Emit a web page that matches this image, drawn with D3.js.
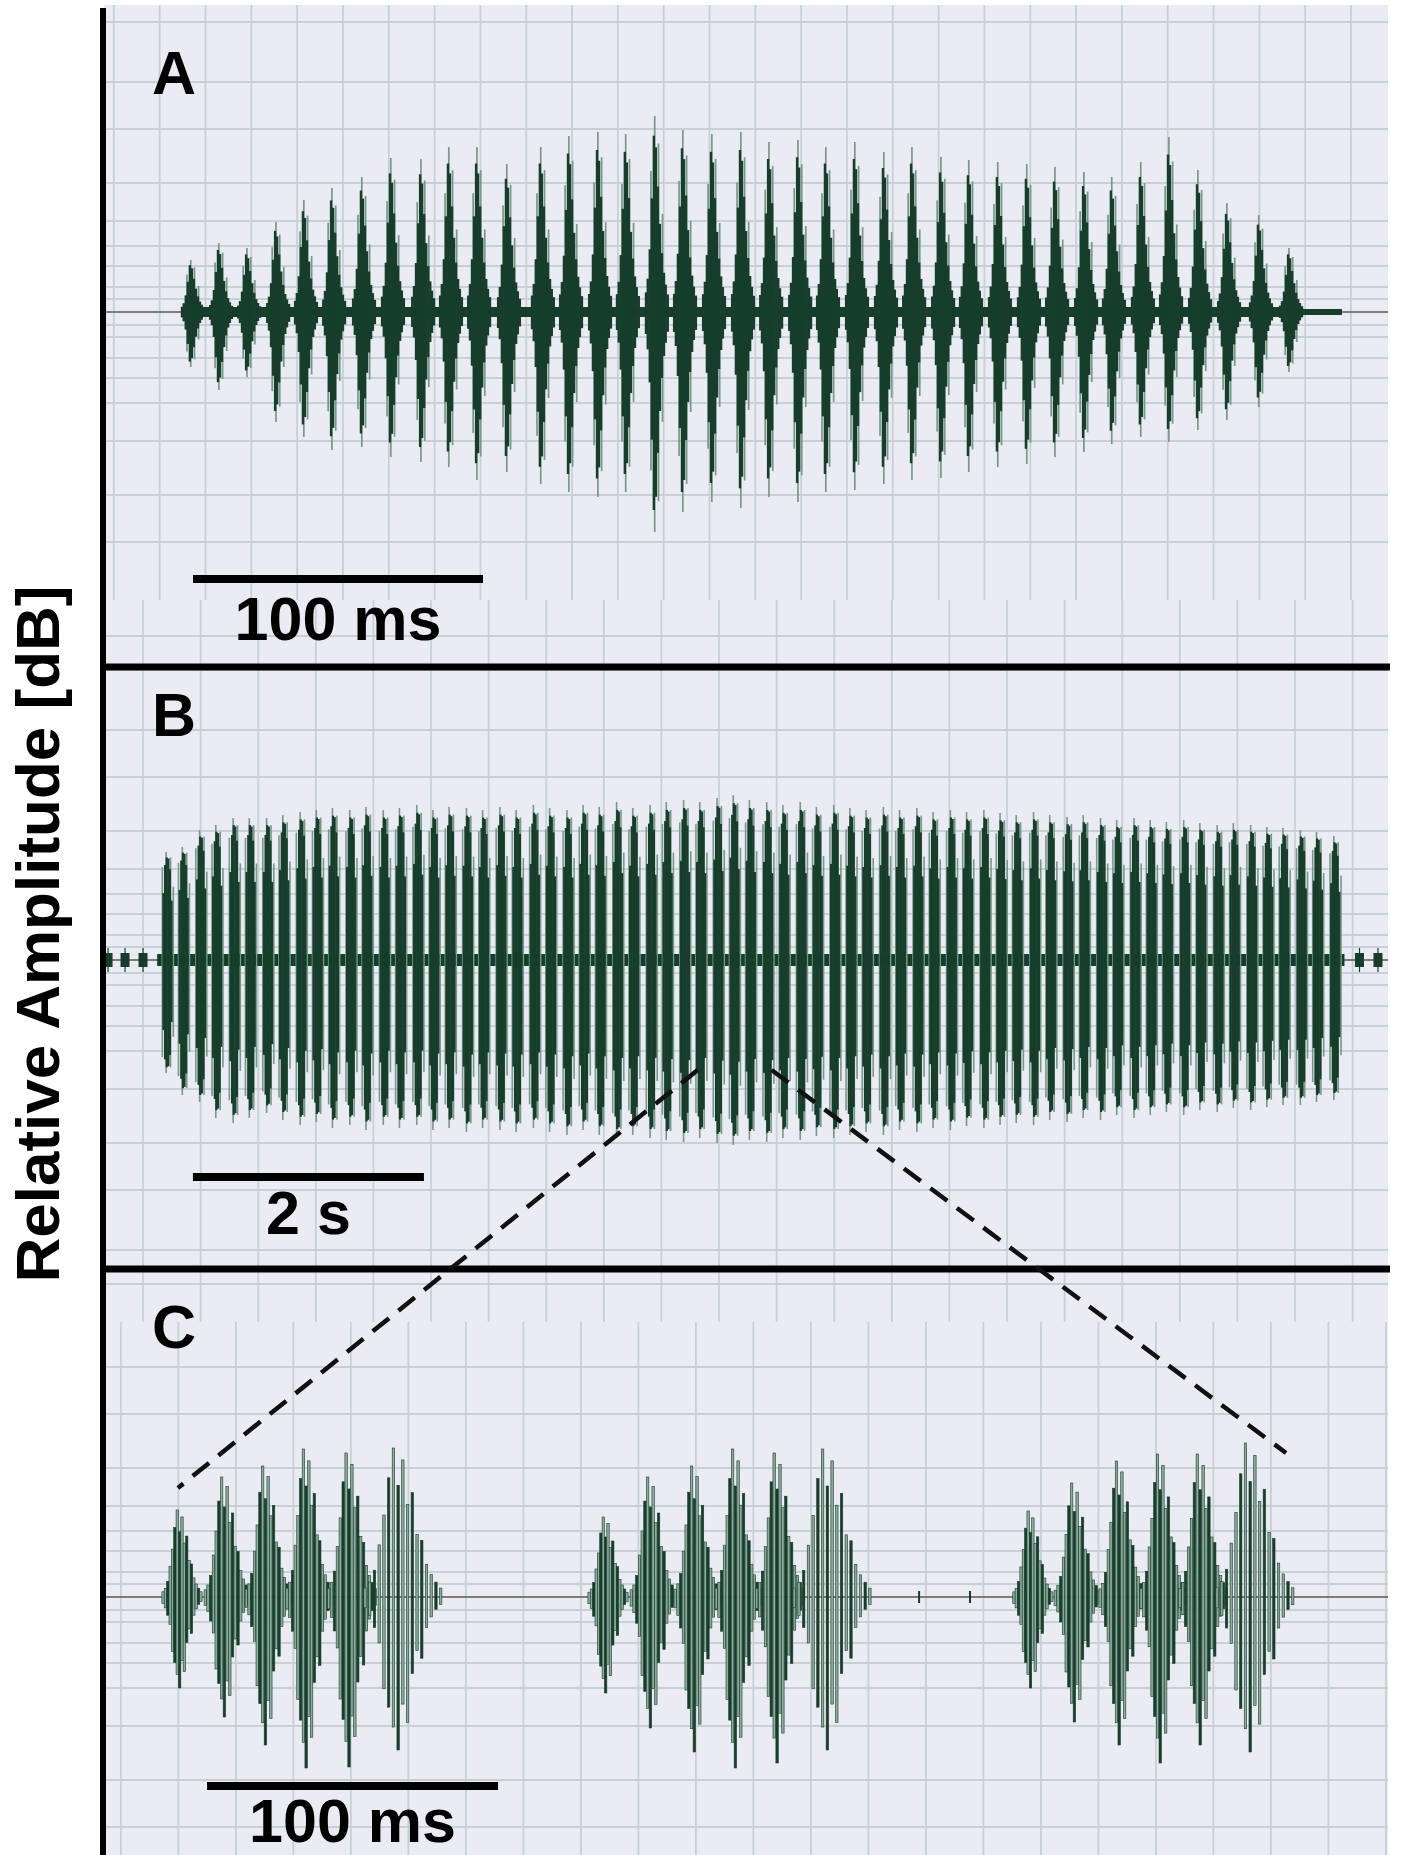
<!DOCTYPE html>
<html>
<head>
<meta charset="utf-8">
<script src="https://cdn.jsdelivr.net/npm/d3@7"></script>
<style>
  body { margin: 0; background: #fff; }
  svg { display: block; font-family: "Liberation Sans", Arial, sans-serif; font-weight: bold; }
</style>
</head>
<body>
<div id="chart"></div>
<script>
// ---- data (amplitude in arbitrary units, full scale grid = 290) ----
const gridLevels = [13, 25, 46, 66, 91, 129, 183, 230, 290, 324];

// Panel A: one call, pulse times in ms
const pulseTimesA = [30.3, 40.0, 49.7, 59.7, 69.3, 79.0, 89.3, 99.3, 109.7, 119.3, 129.0, 139.3, 151.0, 160.7,
  170.7, 180.3, 190.3, 200.0, 210.0, 220.0, 229.7, 239.7, 249.3, 259.3, 269.3, 279.0, 289.0, 298.6, 308.6,
  318.6, 328.3, 338.3, 347.9, 357.9, 367.6, 377.6, 387.6, 398.6, 409.0];
const pulseUpA = [52, 69, 64, 90, 112, 124, 135, 154, 153, 165, 165, 148, 165, 176, 180, 178, 196, 182, 178, 180,
  170, 172, 165, 170, 160, 165, 155, 152, 150, 148, 145, 140, 135, 150, 175, 142, 109, 97, 64];
const pulseDownA = [55, 78, 65, 110, 125, 138, 135, 145, 150, 155, 168, 160, 172, 180, 185, 180, 220, 200, 190, 196,
  185, 190, 180, 178, 172, 168, 166, 160, 155, 152, 145, 140, 132, 125, 130, 118, 108, 95, 60];
const extentA = [26.6, 413.0];
const tailA = [413.0, 426.9];

// Panel B: long call, pulse times in s
const pulseTimesB = [0.55, 0.69, 0.84, 0.98, 1.13, 1.27, 1.42, 1.56, 1.71, 1.85, 1.99, 2.14, 2.28, 2.43, 2.57,
  2.72, 2.86, 3.00, 3.15, 3.29, 3.44, 3.58, 3.73, 3.87, 4.02, 4.16, 4.30, 4.45, 4.59, 4.74, 4.88, 5.03, 5.17,
  5.32, 5.46, 5.60, 5.75, 5.89, 6.04, 6.18, 6.33, 6.47, 6.61, 6.76, 6.90, 7.05, 7.19, 7.34, 7.48, 7.63, 7.77,
  7.91, 8.06, 8.20, 8.35, 8.49, 8.64, 8.78, 8.93, 9.07, 9.21, 9.36, 9.50, 9.65, 9.79, 9.94, 10.08, 10.22,
  10.37, 10.51, 10.66];
const pulseUpB = [108, 113, 130, 135, 142, 142, 142, 145, 148, 150, 152, 150, 153, 150, 152, 155, 150, 153, 152,
  150, 153, 150, 155, 152, 150, 155, 153, 158, 152, 155, 158, 160, 158, 162, 165, 160, 158, 155, 158, 153, 155,
  152, 150, 153, 150, 152, 148, 150, 148, 150, 147, 145, 148, 145, 143, 145, 142, 140, 142, 140, 138, 140, 137,
  135, 137, 135, 133, 132, 130, 128, 124];
const pulseDownB = [113, 135, 142, 158, 163, 158, 153, 160, 165, 162, 168, 165, 170, 165, 168, 165, 170, 168, 172,
  168, 170, 172, 168, 172, 175, 170, 175, 178, 175, 178, 180, 182, 178, 183, 185, 180, 182, 178, 180, 176, 178,
  175, 172, 175, 170, 172, 168, 170, 166, 168, 165, 163, 165, 160, 162, 158, 160, 155, 158, 155, 152, 155, 150,
  152, 148, 150, 147, 145, 145, 142, 140];
const extentB = [0.46, 10.74];
const preNoiseB = [0.035, 0.182, 0.338, 10.87, 11.03];

// Panel C: three syllables of six pulses, times in ms
const pulseTimesC = [26.8, 42.3, 56.4, 70.4, 85.2, 102.7, 173.2, 188.7, 203.8, 217.9, 232.3, 250.2,
  319.2, 334.4, 349.8, 363.9, 377.7, 395.5];
const pulseUpC = [87, 120, 131, 148, 144, 149, 80, 120, 131, 148, 144, 148, 86, 114, 136, 143, 143, 154];
const pulseDownC = [91, 120, 148, 171, 170, 153, 96, 131, 155, 171, 166, 153, 91, 125, 148, 166, 148, 155];
const halfWidthC = [6.5, 7.5, 7.5, 7.5, 8, 13, 6.5, 7.5, 7.5, 7.5, 8, 13, 6.5, 7.5, 7.5, 7.5, 8, 13];
const blipsC = [280.1, 297.6];

// pulse shapes (offset from pulse centre, relative height)
const shapeA = {
  darkOff: [-3.4, -2.8, -2.1, -1.4, -0.7, 0, 0.7, 1.4, 2.1, 2.8, 3.4, 4.1],
  dark: [0.1, 0.17, 0.32, 0.58, 0.9, 0.84, 0.64, 0.45, 0.3, 0.2, 0.14, 0.09],
  lightOff: [-1.7, -0.4, 0.9, 2.3],
  light: [0.72, 1.0, 0.86, 0.5]
};
const shapeB = {
  darkOff: [-0.035, -0.021, -0.007, 0.007, 0.021, 0.035],
  dark: [0.62, 0.88, 0.95, 0.94, 0.84, 0.55],
  lightOff: [-0.045, -0.012, 0.026, 0.05],
  light: [0.86, 1.0, 0.95, 0.68]
};
const shapeC = {
  u: [-1, -0.875, -0.75, -0.625, -0.5, -0.375, -0.25, -0.125, 0, 0.125, 0.25, 0.375, 0.5, 0.625, 0.75, 0.875, 1],
  up: [0.06, 0.1, 0.18, 0.35, 0.55, 0.8, 1.0, 0.75, 0.92, 0.62, 0.7, 0.42, 0.38, 0.22, 0.15, 0.1, 0.06],
  down: [0.07, 0.12, 0.2, 0.3, 0.6, 0.72, 0.85, 1.0, 0.7, 0.82, 0.5, 0.35, 0.4, 0.2, 0.13, 0.08, 0.05],
  dark: [0, 0, 1, 0, 0, 1, 0, 1, 0, 0, 1, 0, 1, 0, 0, 1, 0]
};

// zoom link: from panel B (s, amp) to panel C (ms, amp)
const zoomLinks = [
  { from: [5.14, -110], to: [25.4, 109] },
  { from: [5.78, -110], to: [406.2, 144] }
];
const scaleBars = [
  { panel: "A", start: 30.7, len: 100, label: "100 ms" },
  { panel: "B", start: 0.77, len: 2, label: "2 s" },
  { panel: "C", start: 35.4, len: 100, label: "100 ms" }
];

// ---- layout ----
const W = 1403, H = 1855;
const plotL = 104, plotR = 1388, plotT = 5;
const col = {
  bg: "#ebebf4", grid: "#c7d1d4", dark: "#163e2b", light: "#769a89",
  lightC: "#8ca99b", zero: "#5e5555"
};

const svg = d3.select("#chart").append("svg")
  .attr("width", W).attr("height", H);

svg.append("rect")
  .attr("x", plotL).attr("y", plotT)
  .attr("width", plotR - plotL).attr("height", H - plotT)
  .attr("fill", col.bg);

// scales
const xA = d3.scaleLinear().domain([0, 100]).range([plotL, plotL + 290]);
const xB = d3.scaleLinear().domain([0, 2]).range([plotL, plotL + 231]);
const xC = d3.scaleLinear().domain([0, 100]).range([plotL, plotL + 291]);
const amp = c => d3.scaleLinear().domain([-290, 290]).range([c + 290, c - 290]);
const yA = amp(312), yB = amp(960), yC = amp(1597);

// grid
function drawGrid(x, y, start, step, y0, y1) {
  const g = svg.append("g");
  const d0 = x.invert(plotL), d1 = x.invert(plotR);
  const ticks = d3.range(start, d1, step).filter(t => t >= d0);
  g.selectAll(".v").data(ticks).enter().append("line")
    .attr("x1", d => x(d)).attr("x2", d => x(d))
    .attr("y1", y0).attr("y2", y1)
    .attr("stroke", col.grid).attr("stroke-width", 1.8);
  const levels = gridLevels.flatMap(v => [v, -v])
    .filter(v => y(v) > y0 && y(v) < y1);
  g.selectAll(".h").data(levels).enter().append("line")
    .attr("x1", plotL).attr("x2", plotR)
    .attr("y1", d => y(d)).attr("y2", d => y(d))
    .attr("stroke", col.grid).attr("stroke-width", 1.8);
}
drawGrid(xA, yA, 3.4, 15.8, plotT, 600);
drawGrid(xB, yB, 0.338, 0.4987, 600, 1322);
drawGrid(xC, yC, 5.8, 19.76, 1322, H);

// centre lines
[yA, yB, yC].forEach(y => {
  svg.append("line")
    .attr("x1", plotL).attr("x2", plotR)
    .attr("y1", y(0)).attr("y2", y(0))
    .attr("stroke", col.zero).attr("stroke-width", 1.4);
});

function samples(times, ups, downs, offs, mult) {
  const out = [];
  times.forEach((t, i) => offs.forEach((o, j) => {
    out.push({ t: t + o, up: ups[i] * mult[j], down: downs[i] * mult[j] });
  }));
  return out;
}

function bars(g, data, x, y, w, fill) {
  g.selectAll(null).data(data).enter().append("rect")
    .attr("x", d => x(d.t) - w / 2)
    .attr("width", w)
    .attr("y", d => y(d.up))
    .attr("height", d => y(-d.down) - y(d.up))
    .attr("fill", fill);
}

function band(g, x, y, ext, h) {
  g.append("rect")
    .attr("x", x(ext[0])).attr("width", x(ext[1]) - x(ext[0]))
    .attr("y", y(h)).attr("height", y(-h) - y(h))
    .attr("fill", col.dark);
}

// Panel A waveform
const gA = svg.append("g");
band(gA, xA, yA, extentA, 5);
band(gA, xA, yA, tailA, 3);
bars(gA, samples(pulseTimesA, pulseUpA, pulseDownA, shapeA.lightOff, shapeA.light), xA, yA, 1.7, col.light);
bars(gA, samples(pulseTimesA, pulseUpA, pulseDownA, shapeA.darkOff, shapeA.dark), xA, yA, 2.4, col.dark);

// Panel B waveform
const gB = svg.append("g");
band(gB, xB, yB, extentB, 6);
bars(gB, samples(pulseTimesB, pulseUpB, pulseDownB, shapeB.lightOff, shapeB.light), xB, yB, 1.6, col.light);
bars(gB, samples(pulseTimesB, pulseUpB, pulseDownB, shapeB.darkOff, shapeB.dark), xB, yB, 2.2, col.dark);
gB.selectAll(null).data(preNoiseB).enter().append("rect")
  .attr("x", d => xB(d) - 4.5).attr("width", 9)
  .attr("y", yB(7)).attr("height", yB(-7) - yB(7))
  .attr("fill", col.dark);
gB.selectAll(null).data(preNoiseB).enter().append("line")
  .attr("x1", d => xB(d)).attr("x2", d => xB(d))
  .attr("y1", yB(12)).attr("y2", yB(-12))
  .attr("stroke", col.dark).attr("stroke-width", 1.2);

// Panel C waveform
const gC = svg.append("g");
const samplesC = [];
pulseTimesC.forEach((t, i) => shapeC.u.forEach((u, j) => {
  samplesC.push({
    t: t + u * halfWidthC[i],
    up: pulseUpC[i] * shapeC.up[j],
    down: pulseDownC[i] * shapeC.down[j],
    dark: shapeC.dark[j]
  });
}));
gC.selectAll(null).data(samplesC).enter().append("rect")
  .attr("x", d => xC(d.t) - 1.2)
  .attr("width", 2.4)
  .attr("y", d => yC(d.up))
  .attr("height", d => yC(-d.down) - yC(d.up))
  .attr("fill", d => d.dark ? col.dark : col.lightC)
  .attr("stroke", col.dark)
  .attr("stroke-width", 0.6);
gC.selectAll(null).data(blipsC).enter().append("rect")
  .attr("x", d => xC(d) - 1).attr("width", 2)
  .attr("y", yC(6)).attr("height", yC(-6) - yC(6))
  .attr("fill", col.dark);

// dividers and axis
[667, 1269].forEach(yy => {
  svg.append("line")
    .attr("x1", plotL - 3).attr("x2", plotR + 2)
    .attr("y1", yy).attr("y2", yy)
    .attr("stroke", "#000").attr("stroke-width", 7);
});
svg.append("line")
  .attr("x1", 103).attr("x2", 103)
  .attr("y1", 8).attr("y2", H)
  .attr("stroke", "#000").attr("stroke-width", 6);

// zoom links
svg.selectAll(".link").data(zoomLinks).enter().append("line")
  .attr("x1", d => xB(d.from[0])).attr("y1", d => yB(d.from[1]))
  .attr("x2", d => xC(d.to[0])).attr("y2", d => yC(d.to[1]))
  .attr("stroke", "#111").attr("stroke-width", 4.5)
  .attr("stroke-dasharray", "21,12");

// scale bars
const barLayout = {
  A: { x: xA, y: yA, bar: -267, text: -328 },
  B: { x: xB, y: yB, bar: -217, text: -274 },
  C: { x: xC, y: yC, bar: -189, text: -245 }
};
scaleBars.forEach(s => {
  const L = barLayout[s.panel];
  svg.append("line")
    .attr("x1", L.x(s.start)).attr("x2", L.x(s.start + s.len))
    .attr("y1", L.y(L.bar)).attr("y2", L.y(L.bar))
    .attr("stroke", "#000").attr("stroke-width", 8);
  svg.append("text")
    .attr("x", L.x(s.start + s.len / 2)).attr("y", L.y(L.text))
    .attr("text-anchor", "middle")
    .attr("font-size", 61)
    .text(s.label);
});

// panel letters
[["A", 94], ["B", 736], ["C", 1348]].forEach(([t, yy]) => {
  svg.append("text")
    .attr("x", 152).attr("y", yy)
    .attr("font-size", 61)
    .text(t);
});

// y label
svg.append("text")
  .attr("transform", "translate(59,934) rotate(-90)")
  .attr("text-anchor", "middle")
  .attr("font-size", 62)
  .text("Relative Amplitude [dB]");
</script>
</body>
</html>
